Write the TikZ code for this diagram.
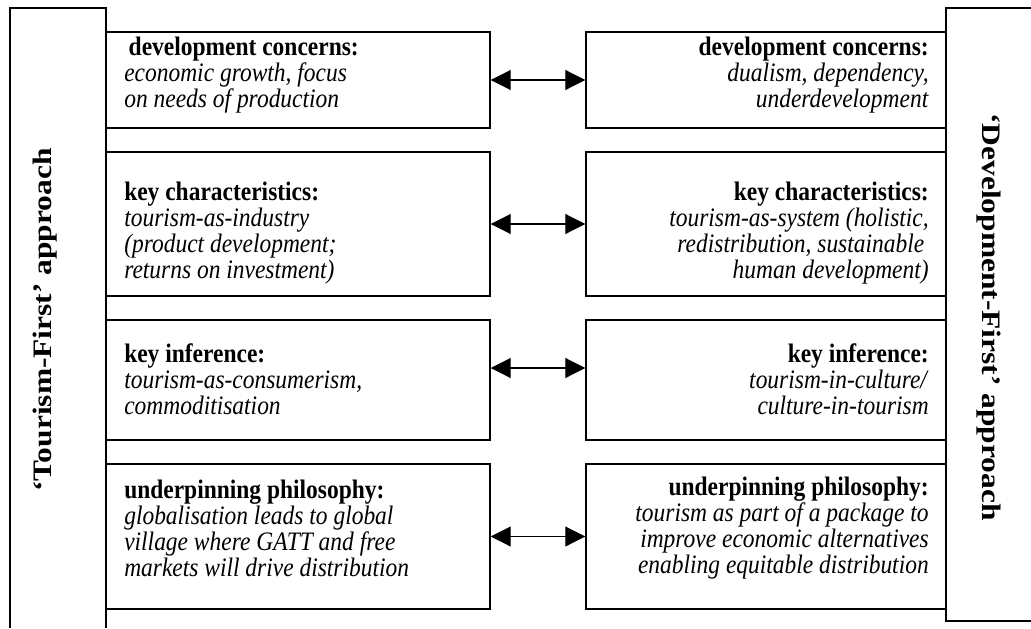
\documentclass[tikz,border=0pt]{standalone}
\usepackage{fontspec}
\setmainfont{Liberation Serif}[FakeStretch=0.88]
\newfontfamily\titlefont{Liberation Serif}[Ligatures=TeX, FakeStretch=1.18]
\usetikzlibrary{arrows.meta}
\newcommand{\hd}[1]{\textbf{#1}}
\newcommand{\ds}[1]{\textit{#1}}

\begin{document}
\begin{tikzpicture}[x=0.75pt, y=-0.75pt,
	frame/.style={line width=1.1pt},
	box/.style={draw, rectangle, line width=1.1pt, inner sep=0pt},
	lcol/.style={box, minimum width=288pt},
	rcol/.style={box, minimum width=270pt},
	ltxt/.style={anchor=west, align=left, inner sep=0pt, font=\fontsize{20}{19.5}\selectfont},
	rtxt/.style={anchor=east, align=right, inner sep=0pt, font=\fontsize{20}{19.5}\selectfont},
	title/.style={inner sep=0pt, font=\titlefont\fontsize{20}{22}\selectfont\bfseries},
	pair/.style={{Triangle[length=15pt,width=15pt]}-{Triangle[length=15pt,width=15pt]}, line width=0.8pt}]
	\useasboundingbox (0,0) rectangle (1031,628);

	% the two side frames
	\draw[frame] (10,628) |- (106,8) -- (106,628);
	\draw[frame] (1031,8) -| (946,621) -- (1031,621);
	\node[title, rotate=90] (tf) at (45,320) {`Tourism-First' approach};
	\node[title, rotate=-90] (df) at (989,317) {`Development-First' approach};

	% left column
	\node[lcol, minimum height=72pt] (l1) at (298,80) {};
	\node[lcol, minimum height=108pt] (l2) at (298,224) {};
	\node[lcol, minimum height=90pt] (l3) at (298,380) {};
	\node[lcol, minimum height=108.75pt] (l4) at (298,536.5) {};

	% right column
	\node[rcol, minimum height=72pt] (r1) at (766,80) {};
	\node[rcol, minimum height=108pt] (r2) at (766,224) {};
	\node[rcol, minimum height=90pt] (r3) at (766,380) {};
	\node[rcol, minimum height=108.75pt] (r4) at (766,536.5) {};

	\node[ltxt] (lt1) at (124,75) {\hd{\,development concerns:}\\ \ds{economic growth, focus}\\ \ds{on needs of production}};
	\node[ltxt] (lt2) at (124,233) {\hd{key characteristics:}\\ \ds{tourism-as-industry}\\ \ds{(product development;}\\ \ds{returns on investment)}};
	\node[ltxt] (lt3) at (124,379) {\hd{key inference:}\\ \ds{tourism-as-consumerism,}\\ \ds{commoditisation}};
	\node[ltxt] (lt4) at (124,528) {\hd{underpinning philosophy:}\\ \ds{globalisation leads to global}\\ \ds{village where GATT and free}\\ \ds{markets will drive distribution}};

	\node[rtxt] (rt1) at (929,75) {\hd{development concerns:}\\ \ds{dualism, dependency,}\\ \ds{underdevelopment}};
	\node[rtxt] (rt2) at (929,233) {\hd{key characteristics:}\\ \ds{tourism-as-system (holistic,}\\ \ds{redistribution, sustainable\,}\\ \ds{human development)}};
	\node[rtxt] (rt3) at (929,379) {\hd{key inference:}\\ \ds{tourism-in-culture/}\\ \ds{culture-in-tourism}};
	\node[rtxt] (rt4) at (929,528) {\hd{underpinning philosophy:}\\ \ds{tourism as part of a package to}\\ \ds{improve economic alternatives}\\ \ds{enabling equitable distribution}};

	% links between the two approaches
	\draw[pair] (l1) -- (r1);
	\draw[pair] (l2) -- (r2);
	\draw[pair] ([yshift=9pt]l3.east) -- ([yshift=9pt]r3.west);
	\draw[pair] (l4) -- (r4);
\end{tikzpicture}
\end{document}
